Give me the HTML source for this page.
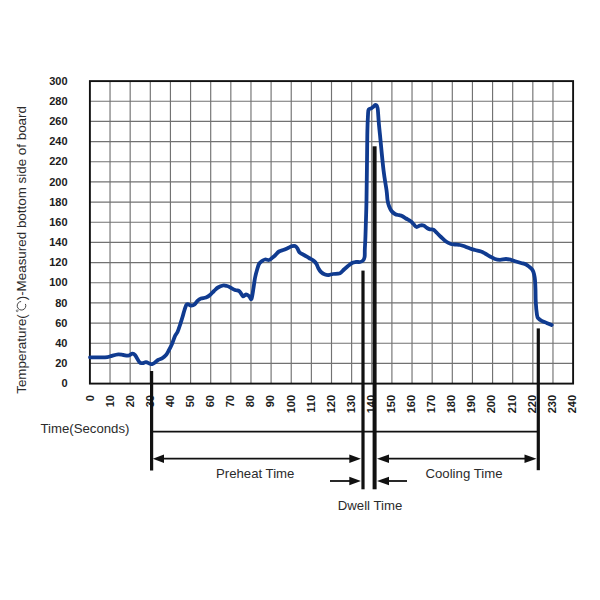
<!DOCTYPE html>
<html><head><meta charset="utf-8"><style>
html,body{margin:0;padding:0;background:#fff;width:600px;height:600px;overflow:hidden}
svg{display:block}
text{font-family:"Liberation Sans",sans-serif}
</style></head><body>
<svg width="600" height="600" viewBox="0 0 600 600">
<rect width="600" height="600" fill="#fff"/>
<g stroke="#727272" stroke-width="1.15">
<line x1="110.03" y1="81.1" x2="110.03" y2="383.6" />
<line x1="130.17" y1="81.1" x2="130.17" y2="383.6" />
<line x1="150.30" y1="81.1" x2="150.30" y2="383.6" />
<line x1="170.43" y1="81.1" x2="170.43" y2="383.6" />
<line x1="190.57" y1="81.1" x2="190.57" y2="383.6" />
<line x1="210.70" y1="81.1" x2="210.70" y2="383.6" />
<line x1="230.83" y1="81.1" x2="230.83" y2="383.6" />
<line x1="250.97" y1="81.1" x2="250.97" y2="383.6" />
<line x1="271.10" y1="81.1" x2="271.10" y2="383.6" />
<line x1="291.23" y1="81.1" x2="291.23" y2="383.6" />
<line x1="311.37" y1="81.1" x2="311.37" y2="383.6" />
<line x1="331.50" y1="81.1" x2="331.50" y2="383.6" />
<line x1="351.63" y1="81.1" x2="351.63" y2="383.6" />
<line x1="371.77" y1="81.1" x2="371.77" y2="383.6" />
<line x1="391.90" y1="81.1" x2="391.90" y2="383.6" />
<line x1="412.03" y1="81.1" x2="412.03" y2="383.6" />
<line x1="432.17" y1="81.1" x2="432.17" y2="383.6" />
<line x1="452.30" y1="81.1" x2="452.30" y2="383.6" />
<line x1="472.43" y1="81.1" x2="472.43" y2="383.6" />
<line x1="492.57" y1="81.1" x2="492.57" y2="383.6" />
<line x1="512.70" y1="81.1" x2="512.70" y2="383.6" />
<line x1="532.83" y1="81.1" x2="532.83" y2="383.6" />
<line x1="552.97" y1="81.1" x2="552.97" y2="383.6" />
<line x1="89.9" y1="101.27" x2="573.1" y2="101.27" />
<line x1="89.9" y1="121.43" x2="573.1" y2="121.43" />
<line x1="89.9" y1="141.60" x2="573.1" y2="141.60" />
<line x1="89.9" y1="161.77" x2="573.1" y2="161.77" />
<line x1="89.9" y1="181.93" x2="573.1" y2="181.93" />
<line x1="89.9" y1="202.10" x2="573.1" y2="202.10" />
<line x1="89.9" y1="222.27" x2="573.1" y2="222.27" />
<line x1="89.9" y1="242.43" x2="573.1" y2="242.43" />
<line x1="89.9" y1="262.60" x2="573.1" y2="262.60" />
<line x1="89.9" y1="282.77" x2="573.1" y2="282.77" />
<line x1="89.9" y1="302.93" x2="573.1" y2="302.93" />
<line x1="89.9" y1="323.10" x2="573.1" y2="323.10" />
<line x1="89.9" y1="343.27" x2="573.1" y2="343.27" />
<line x1="89.9" y1="363.43" x2="573.1" y2="363.43" />
</g>
<rect x="89.9" y="81.1" width="483.20" height="302.50" fill="none" stroke="#111" stroke-width="1.9"/>
<path d="M90.0,357.3 C91.2,357.3 94.6,357.3 97.5,357.3 C100.4,357.3 105.1,357.4 107.5,357.1 C109.9,356.9 109.9,356.3 111.7,355.8 C113.5,355.3 116.4,354.4 118.3,354.3 C120.2,354.2 121.7,354.8 123.3,355.0 C124.9,355.2 126.5,355.9 128.0,355.7 C129.5,355.5 131.3,353.7 132.5,353.6 C133.7,353.5 133.8,353.6 135.0,355.0 C136.2,356.4 138.2,360.9 139.5,362.3 C140.8,363.7 141.4,363.1 142.5,363.1 C143.6,363.1 144.8,362.1 146.0,362.2 C147.2,362.3 149.0,363.5 150.0,363.8 C151.0,364.1 151.2,364.3 152.0,364.1 C152.8,363.9 154.0,363.2 155.0,362.5 C156.0,361.8 156.8,360.7 158.0,360.0 C159.2,359.3 160.7,359.1 162.0,358.3 C163.3,357.5 164.8,356.4 166.0,355.0 C167.2,353.6 168.0,351.8 169.0,350.0 C170.0,348.2 171.0,346.3 172.0,344.0 C173.0,341.7 174.1,338.0 175.0,336.0 C175.9,334.0 176.7,333.8 177.5,332.0 C178.3,330.2 179.2,327.5 180.0,325.0 C180.8,322.5 181.8,319.5 182.5,317.0 C183.2,314.5 183.8,312.1 184.5,310.0 C185.2,307.9 185.9,304.9 187.0,304.2 C188.1,303.4 189.8,305.4 191.0,305.5 C192.2,305.6 193.3,305.4 194.5,304.5 C195.7,303.6 196.9,301.3 198.0,300.3 C199.1,299.3 199.7,299.0 201.0,298.5 C202.3,298.0 204.5,298.1 206.0,297.5 C207.5,296.9 208.7,296.1 210.0,295.0 C211.3,293.9 212.7,292.2 214.0,291.0 C215.3,289.8 216.5,288.4 218.0,287.5 C219.5,286.6 221.5,285.8 223.0,285.5 C224.5,285.2 225.8,285.7 227.0,286.0 C228.2,286.3 228.7,286.6 230.0,287.3 C231.3,288.0 233.5,289.4 235.0,290.0 C236.5,290.6 238.0,290.4 239.0,291.0 C240.0,291.6 240.3,292.6 241.0,293.5 C241.7,294.4 242.2,296.1 243.0,296.3 C243.8,296.5 245.0,294.6 246.0,294.5 C247.0,294.4 248.1,295.3 249.0,296.0 C249.9,296.7 250.8,300.1 251.5,298.8 C252.2,297.5 252.9,291.5 253.5,288.0 C254.1,284.5 254.4,281.0 255.0,278.0 C255.6,275.0 256.3,272.3 257.0,270.0 C257.7,267.7 258.2,265.5 259.0,264.0 C259.8,262.5 261.0,261.8 262.0,261.0 C263.0,260.2 263.8,259.7 265.0,259.5 C266.2,259.3 267.8,260.2 269.0,260.0 C270.2,259.8 271.0,258.8 272.0,258.0 C273.0,257.2 273.8,256.6 275.0,255.5 C276.2,254.4 277.5,252.4 279.0,251.5 C280.5,250.6 282.5,250.4 284.0,249.8 C285.5,249.2 286.7,248.6 288.0,248.0 C289.3,247.4 290.8,246.5 292.0,246.2 C293.2,245.9 294.1,245.6 295.0,246.0 C295.9,246.4 296.8,247.4 297.5,248.5 C298.2,249.6 298.4,251.2 299.5,252.3 C300.6,253.4 302.4,254.1 304.0,255.0 C305.6,255.9 307.3,257.0 309.0,258.0 C310.7,259.0 312.8,260.0 314.0,261.0 C315.2,262.0 315.8,262.8 316.5,264.0 C317.2,265.2 317.8,267.2 318.5,268.5 C319.2,269.8 319.9,271.0 321.0,272.0 C322.1,273.0 323.7,274.0 325.0,274.5 C326.3,275.0 327.7,275.1 329.0,275.0 C330.3,274.9 331.2,274.3 333.0,274.0 C334.8,273.7 338.2,273.9 340.0,273.2 C341.8,272.4 342.7,270.7 344.0,269.5 C345.3,268.3 346.7,267.1 348.0,266.0 C349.3,264.9 350.7,263.7 352.0,263.0 C353.3,262.3 354.7,262.2 356.0,262.0 C357.3,261.8 358.8,262.2 360.0,262.0 C361.2,261.8 362.2,261.3 363.0,260.5 C363.8,259.7 364.3,258.8 364.6,257.0 C364.9,255.2 364.7,252.8 364.8,250.0 C364.9,247.2 365.1,244.2 365.3,240.0 C365.5,235.8 365.6,231.7 365.8,225.0 C366.0,218.3 366.2,215.0 366.5,200.0 C366.8,185.0 367.1,149.2 367.3,135.0 C367.6,120.8 367.8,119.2 368.0,115.0 C368.2,110.8 368.1,110.6 368.7,109.5 C369.2,108.4 370.6,108.7 371.3,108.3 C372.0,107.9 372.3,107.5 373.0,107.0 C373.7,106.5 374.6,105.0 375.3,105.0 C376.0,105.0 376.9,105.9 377.3,107.0 C377.8,108.1 377.8,109.2 378.0,111.7 C378.2,114.2 378.4,117.8 378.7,121.7 C379.0,125.6 379.2,127.0 380.0,135.0 C380.8,143.1 382.4,160.8 383.5,170.0 C384.6,179.2 385.8,185.0 386.5,190.0 C387.2,195.0 387.1,197.3 387.5,200.0 C387.9,202.7 388.3,204.2 389.0,206.0 C389.7,207.8 390.5,209.7 391.5,211.0 C392.5,212.3 393.8,213.3 395.0,214.0 C396.2,214.7 397.8,214.9 399.0,215.2 C400.2,215.5 400.8,215.4 402.0,216.0 C403.2,216.6 404.5,217.6 406.0,218.5 C407.5,219.4 409.8,220.6 411.0,221.5 C412.2,222.4 412.6,223.1 413.5,224.0 C414.4,224.9 415.4,226.8 416.5,227.0 C417.6,227.2 418.8,225.8 420.0,225.5 C421.2,225.2 422.3,225.1 423.5,225.5 C424.7,225.9 425.9,227.4 427.0,228.0 C428.1,228.6 428.9,229.0 430.0,229.3 C431.1,229.6 432.3,229.1 433.5,229.7 C434.7,230.3 435.8,231.8 437.0,233.0 C438.2,234.2 439.5,235.6 441.0,237.0 C442.5,238.4 444.3,240.3 446.0,241.5 C447.7,242.7 449.5,243.5 451.0,244.0 C452.5,244.5 453.5,244.3 455.0,244.5 C456.5,244.7 458.3,244.7 460.0,245.0 C461.7,245.3 463.3,245.9 465.0,246.5 C466.7,247.1 468.3,247.9 470.0,248.5 C471.7,249.1 473.2,249.5 475.0,250.0 C476.8,250.5 479.3,250.9 481.0,251.5 C482.7,252.1 483.5,252.7 485.0,253.5 C486.5,254.3 488.3,255.6 490.0,256.5 C491.7,257.4 493.3,258.4 495.0,259.0 C496.7,259.6 498.2,259.8 500.0,259.8 C501.8,259.8 504.2,259.0 506.0,259.0 C507.8,259.0 509.3,259.4 511.0,259.8 C512.7,260.2 514.3,261.0 516.0,261.5 C517.7,262.0 519.3,262.5 521.0,263.0 C522.7,263.5 524.6,263.8 526.0,264.5 C527.4,265.2 528.4,266.1 529.5,267.0 C530.6,267.9 531.8,268.8 532.5,270.0 C533.2,271.2 533.6,272.3 534.0,274.0 C534.4,275.7 534.8,277.3 535.0,280.0 C535.2,282.7 535.4,286.2 535.5,290.0 C535.6,293.8 535.5,298.3 535.8,302.5 C536.0,306.7 536.6,312.4 537.0,315.0 C537.4,317.6 537.5,317.3 538.3,318.3 C539.1,319.3 540.3,320.0 541.7,320.8 C543.1,321.6 545.0,322.2 546.7,322.9 C548.4,323.6 550.9,324.6 551.7,325.0" fill="none" stroke="#103b90" stroke-width="3.8" stroke-linejoin="round" stroke-linecap="round"/>
<g font-size="11" font-weight="bold" fill="#1c1c1c">
<text x="67.5" y="387.20" text-anchor="end">0</text>
<text x="67.5" y="367.03" text-anchor="end">20</text>
<text x="67.5" y="346.87" text-anchor="end">40</text>
<text x="67.5" y="326.70" text-anchor="end">60</text>
<text x="67.5" y="306.53" text-anchor="end">80</text>
<text x="67.5" y="286.37" text-anchor="end">100</text>
<text x="67.5" y="266.20" text-anchor="end">120</text>
<text x="67.5" y="246.03" text-anchor="end">140</text>
<text x="67.5" y="225.87" text-anchor="end">160</text>
<text x="67.5" y="205.70" text-anchor="end">180</text>
<text x="67.5" y="185.53" text-anchor="end">200</text>
<text x="67.5" y="165.37" text-anchor="end">220</text>
<text x="67.5" y="145.20" text-anchor="end">240</text>
<text x="67.5" y="125.03" text-anchor="end">260</text>
<text x="67.5" y="104.87" text-anchor="end">280</text>
<text x="67.5" y="84.70" text-anchor="end">300</text>
<text transform="translate(93.65,395) rotate(-90)" text-anchor="end">0</text>
<text transform="translate(113.74,395) rotate(-90)" text-anchor="end">10</text>
<text transform="translate(133.83,395) rotate(-90)" text-anchor="end">20</text>
<text transform="translate(153.92,395) rotate(-90)" text-anchor="end">30</text>
<text transform="translate(174.01,395) rotate(-90)" text-anchor="end">40</text>
<text transform="translate(194.10,395) rotate(-90)" text-anchor="end">50</text>
<text transform="translate(214.19,395) rotate(-90)" text-anchor="end">60</text>
<text transform="translate(234.28,395) rotate(-90)" text-anchor="end">70</text>
<text transform="translate(254.37,395) rotate(-90)" text-anchor="end">80</text>
<text transform="translate(274.46,395) rotate(-90)" text-anchor="end">90</text>
<text transform="translate(294.55,395) rotate(-90)" text-anchor="end">100</text>
<text transform="translate(314.64,395) rotate(-90)" text-anchor="end">110</text>
<text transform="translate(334.73,395) rotate(-90)" text-anchor="end">120</text>
<text transform="translate(354.82,395) rotate(-90)" text-anchor="end">130</text>
<text transform="translate(374.91,395) rotate(-90)" text-anchor="end">140</text>
<text transform="translate(395.00,395) rotate(-90)" text-anchor="end">150</text>
<text transform="translate(415.09,395) rotate(-90)" text-anchor="end">160</text>
<text transform="translate(435.18,395) rotate(-90)" text-anchor="end">170</text>
<text transform="translate(455.27,395) rotate(-90)" text-anchor="end">180</text>
<text transform="translate(475.36,395) rotate(-90)" text-anchor="end">190</text>
<text transform="translate(495.45,395) rotate(-90)" text-anchor="end">200</text>
<text transform="translate(515.54,395) rotate(-90)" text-anchor="end">210</text>
<text transform="translate(535.63,395) rotate(-90)" text-anchor="end">220</text>
<text transform="translate(555.72,395) rotate(-90)" text-anchor="end">230</text>
<text transform="translate(575.81,395) rotate(-90)" text-anchor="end">240</text>
</g>
<g fill="#111" stroke="none">
<rect x="150" y="371" width="3.2" height="99.5"/>
<rect x="361.4" y="270.6" width="3.2" height="218.7"/>
<rect x="372.6" y="146.3" width="4" height="343"/>
<rect x="536.7" y="328.4" width="3.2" height="141.8"/>
</g>
<g stroke="#111" stroke-width="1.8">
<line x1="151.5" y1="431.6" x2="537.8" y2="431.6"/>
<line x1="158" y1="458.7" x2="355" y2="458.7"/>
<line x1="382" y1="458.7" x2="530" y2="458.7"/>
<line x1="330" y1="481" x2="355" y2="481"/>
<line x1="382" y1="481" x2="407" y2="481"/>
</g>
<g fill="#111">
<path d="M152.8,458.7 L164,454.5 L164,462.9 Z"/>
<path d="M360.9,458.7 L349.3,454.5 L349.3,462.9 Z"/>
<path d="M377,458.7 L389,454.5 L389,462.9 Z"/>
<path d="M536.5,458.7 L524.5,454.5 L524.5,462.9 Z"/>
<path d="M360.9,481 L349.3,476.8 L349.3,485.2 Z"/>
<path d="M377,481 L389,476.8 L389,485.2 Z"/>
</g>
<g font-size="13.2" fill="#2b2b2b">
<text x="40.5" y="432.7">Time(Seconds)</text>
<text x="216" y="478">Preheat Time</text>
<text x="425.5" y="478.2">Cooling Time</text>
<text x="337.8" y="510.3">Dwell Time</text>
<g transform="translate(25.5,393.8) rotate(-90)">
<text x="0" y="0" font-size="13.4">Temperature(</text>
<text x="93.5" y="0" font-size="13.4">)-Measured bottom side of board</text>
<circle cx="83" cy="-8.3" r="0.9" fill="none" stroke="#555" stroke-width="0.8"/>
<path d="M92.33,-4.37 A4.3,4.3 0 1 0 89.87,-0.1" fill="none" stroke="#444" stroke-width="1"/>
</g>
</g>
</svg>
</body></html>
